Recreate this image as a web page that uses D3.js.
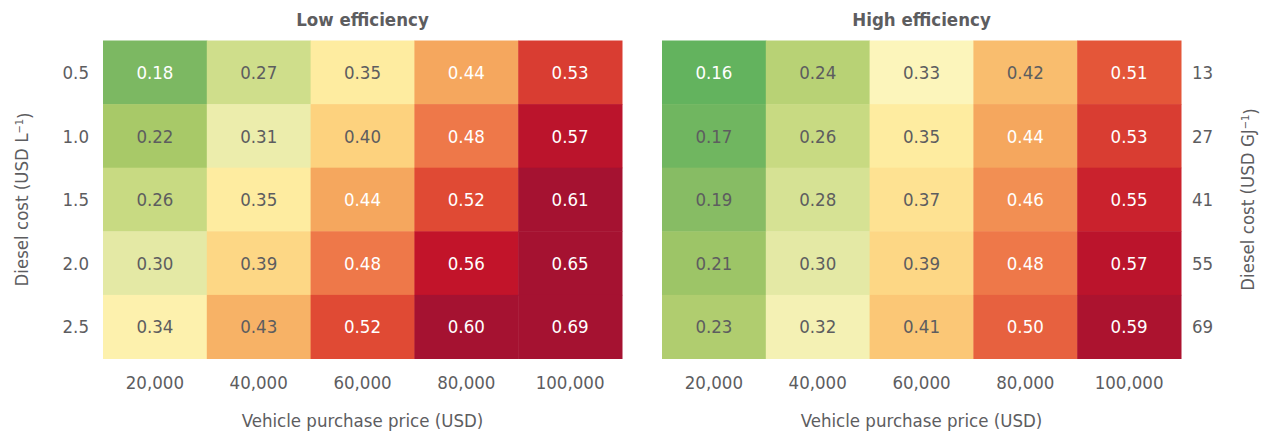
<!DOCTYPE html>
<html>
<head>
<meta charset="utf-8">
<script src="https://cdn.jsdelivr.net/npm/d3@7"></script>
<style>
  body { margin: 0; background: #fff; }
  svg text { font-family: "DejaVu Sans Condensed", "DejaVu Sans", sans-serif; fill: #5d5d5f; }
</style>
</head>
<body>
<div id="chart"></div>
<script>
// data
var prices = ['20,000', '40,000', '60,000', '80,000', '100,000'];
var dieselPerL = ['0.5', '1.0', '1.5', '2.0', '2.5'];
var dieselPerGJ = ['13', '27', '41', '55', '69'];

var lowEff = [
    [0.18, 0.27, 0.35, 0.44, 0.53],
    [0.22, 0.31, 0.40, 0.48, 0.57],
    [0.26, 0.35, 0.44, 0.52, 0.61],
    [0.30, 0.39, 0.48, 0.56, 0.65],
    [0.34, 0.43, 0.52, 0.60, 0.69]
];
var highEff = [
    [0.16, 0.24, 0.33, 0.42, 0.51],
    [0.17, 0.26, 0.35, 0.44, 0.53],
    [0.19, 0.28, 0.37, 0.46, 0.55],
    [0.21, 0.30, 0.39, 0.48, 0.57],
    [0.23, 0.32, 0.41, 0.50, 0.59]
];

var width = 1269, height = 436;
var plotTop = 40.5, plotBottom = 358.5;
var fs = '18.5px';
var panels = [
    { title: 'Low efficiency', values: lowEff, x0: 103, x1: 622 },
    { title: 'High efficiency', values: highEff, x0: 662, x1: 1181 }
];

// colour ramp, green -> pale yellow -> dark red
var color = d3.scaleLinear()
    .domain([0.16, 0.18, 0.22, 0.26, 0.30, 0.33, 0.35, 0.40, 0.44, 0.48, 0.52, 0.56, 0.60])
    .range(['#63b35e', '#7cb862', '#a8c968', '#c8da82', '#e4e9a5', '#fcf5bb', '#feeca0',
            '#fdd27e', '#f5a75e', '#ee7849', '#e04a34', '#c2142a', '#a51231'])
    .clamp(true);

var svg = d3.select('#chart').append('svg')
    .attr('width', width)
    .attr('height', height);

var y = d3.scaleBand().domain(d3.range(5)).range([plotTop, plotBottom]);

panels.forEach(function (p) {
    var x = d3.scaleBand().domain(d3.range(5)).range([p.x0, p.x1]);
    var minV = d3.min(p.values, function (r) { return d3.min(r); });
    var cells = [];
    p.values.forEach(function (row, i) {
        row.forEach(function (v, j) { cells.push({ r: i, c: j, v: v }); });
    });

    var g = svg.append('g');
    g.selectAll('rect')
        .data(cells)
        .enter().append('rect')
        .attr('x', function (d) { return x(d.c); })
        .attr('y', function (d) { return y(d.r); })
        .attr('width', x.bandwidth() + 0.5)
        .attr('height', y.bandwidth() + 0.5)
        .attr('fill', function (d) { return color(d.v); });

    g.selectAll('text.val')
        .data(cells)
        .enter().append('text')
        .attr('class', 'val')
        .attr('x', function (d) { return x(d.c) + x.bandwidth() / 2; })
        .attr('y', function (d) { return y(d.r) + y.bandwidth() / 2; })
        .attr('dy', '0.36em')
        .attr('text-anchor', 'middle')
        .style('font-size', fs)
        .style('fill', function (d) { return (d.v >= 0.44 || d.v === minV) ? '#fff' : '#5d5d5f'; })
        .text(function (d) { return d.v.toFixed(2); });

    // title
    svg.append('text')
        .attr('x', (p.x0 + p.x1) / 2)
        .attr('y', 26)
        .attr('text-anchor', 'middle')
        .style('font-size', fs)
        .style('font-weight', 'bold')
        .text(p.title);

    // x tick labels
    svg.selectAll(null)
        .data(prices)
        .enter().append('text')
        .attr('x', function (d, i) { return x(i) + x.bandwidth() / 2; })
        .attr('y', 389)
        .attr('text-anchor', 'middle')
        .style('font-size', fs)
        .text(function (d) { return d; });

    svg.append('text')
        .attr('x', (p.x0 + p.x1) / 2)
        .attr('y', 427)
        .attr('text-anchor', 'middle')
        .style('font-size', fs)
        .text('Vehicle purchase price (USD)');
});

// left y labels
svg.selectAll(null)
    .data(dieselPerL)
    .enter().append('text')
    .attr('x', 89)
    .attr('y', function (d, i) { return y(i) + y.bandwidth() / 2; })
    .attr('dy', '0.36em')
    .attr('text-anchor', 'end')
    .style('font-size', fs)
    .text(function (d) { return d; });

// right y labels
svg.selectAll(null)
    .data(dieselPerGJ)
    .enter().append('text')
    .attr('x', 1192)
    .attr('y', function (d, i) { return y(i) + y.bandwidth() / 2; })
    .attr('dy', '0.36em')
    .attr('text-anchor', 'start')
    .style('font-size', fs)
    .text(function (d) { return d; });

// axis titles
var lt = svg.append('text')
    .attr('transform', 'translate(28,' + ((plotTop + plotBottom) / 2) + ') rotate(-90)')
    .attr('text-anchor', 'middle')
    .style('font-size', fs);
lt.append('tspan').text('Diesel cost (USD L');
lt.append('tspan').attr('dy', '-0.45em').style('font-size', '11px').text('\u22121');
lt.append('tspan').attr('dy', '0.45em').text(')');

var rt = svg.append('text')
    .attr('transform', 'translate(1254,' + ((plotTop + plotBottom) / 2) + ') rotate(-90)')
    .attr('text-anchor', 'middle')
    .style('font-size', fs);
rt.append('tspan').text('Diesel cost (USD GJ');
rt.append('tspan').attr('dy', '-0.45em').style('font-size', '11px').text('\u22121');
rt.append('tspan').attr('dy', '0.45em').text(')');
</script>
</body>
</html>
